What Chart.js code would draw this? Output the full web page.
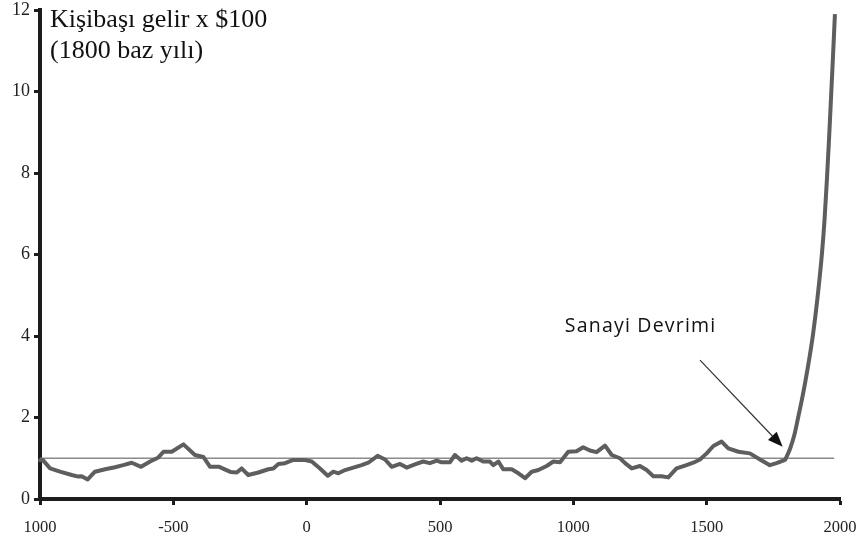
<!DOCTYPE html>
<html>
<head>
<meta charset="utf-8">
<script src="https://cdn.jsdelivr.net/npm/chart.js@4"></script>
<style>
  html, body { margin: 0; padding: 0; background: #ffffff; }
  #wrap { width: 859px; height: 540px; }
</style>
</head>
<body>
<div id="wrap"><canvas id="c" width="859" height="540"></canvas></div>
<script>
// ---- data ----
// pre-industrial period (jagged)
const years = [
  -1000, -990, -962, -925, -881, -856, -844, -821, -794, -756, -719, -688, -656, -621, -587, -556, -537, -506,
  -462, -419, -387, -362, -328, -284, -262, -244, -219, -181, -144, -125, -106, -81, -50, -10,
  19, 50, 79, 100, 119, 144, 175, 206, 231, 266, 294, 319, 350, 375, 406, 437, 462, 488,
  506, 537, 556, 581, 600, 619, 637, 662, 687, 700, 719, 737, 769, 794, 819, 844, 869, 900, 925, 950, 981,
  1012, 1037, 1062, 1087, 1119, 1144, 1175, 1194, 1219, 1250, 1275, 1300, 1331, 1356, 1387, 1419, 1450, 1475,
  1500, 1525, 1556, 1581, 1619, 1662, 1700, 1737, 1762, 1794
];
const income = [
  0.95, 0.96, 0.75, 0.67, 0.59, 0.55, 0.56, 0.48, 0.67, 0.73, 0.78, 0.83, 0.89, 0.79, 0.92, 1.02, 1.16, 1.16,
  1.34, 1.08, 1.03, 0.79, 0.79, 0.66, 0.65, 0.75, 0.59, 0.65, 0.73, 0.75, 0.86, 0.88, 0.96, 0.96,
  0.92, 0.75, 0.57, 0.67, 0.63, 0.71, 0.77, 0.83, 0.89, 1.06, 0.97, 0.79, 0.86, 0.77, 0.85, 0.92, 0.88, 0.94,
  0.90, 0.90, 1.08, 0.94, 1.00, 0.94, 1.00, 0.92, 0.92, 0.83, 0.92, 0.73, 0.73, 0.63, 0.51, 0.67, 0.71, 0.81, 0.92, 0.90, 1.16,
  1.17, 1.27, 1.19, 1.15, 1.31, 1.08, 1.00, 0.88, 0.75, 0.81, 0.71, 0.56, 0.56, 0.53, 0.75, 0.82, 0.89, 0.97,
  1.12, 1.30, 1.41, 1.24, 1.16, 1.12, 0.97, 0.83, 0.88, 0.96
];
// industrial take-off (smooth)
const riseYears = [1794, 1812, 1828, 1843, 1856, 1870, 1885, 1899, 1915, 1932, 1942, 1951, 1959, 1966, 1974, 1981];
const riseIncome = [0.96, 1.22, 1.55, 2.00, 2.40, 2.88, 3.45, 4.05, 4.90, 6.00, 6.85, 7.85, 8.85, 9.80, 10.90, 11.90];
const baseYears = [-1000, 1978];
const baseValues = [1, 1];
const xTickValues = [-1000, -500, 0, 500, 1000, 1500, 2000];
const xTickLabels = ['1000', '-500', '0', '500', '1000', '1500', '2000'];
const yTickLabels = ['0', '2', '4', '6', '8', '10', '12'];
const titleLines = ['Kişibaşı gelir x $100', '(1800 baz yılı)'];
const annotationText = 'Sanayi Devrimi';
const annotationTextAt = [968, 4.11];
const arrowFrom = [1475, 3.41];
const arrowTo = [1785, 1.28];

const mainData = years.map((y, i) => ({ x: y, y: income[i] }));
const riseData = riseYears.map((y, i) => ({ x: y, y: riseIncome[i] }));
const baseData = baseYears.map((y, i) => ({ x: y, y: baseValues[i] }));

const overlay = {
  id: 'overlay',
  afterDraw(chart) {
    const ctx = chart.ctx;
    const xs = chart.scales.x, ys = chart.scales.y;
    ctx.save();
    // axis caption
    ctx.fillStyle = '#111111';
    ctx.font = '26px "Liberation Serif", "Times New Roman", serif';
    ctx.textBaseline = 'alphabetic';
    ctx.textAlign = 'left';
    ctx.fillText(titleLines[0], 50, 27);
    ctx.fillText(titleLines[1], 50, 58);
    // annotation text
    ctx.font = '19.5px "Open Sans", sans-serif';
    if ('letterSpacing' in ctx) ctx.letterSpacing = '1.2px';
    ctx.fillStyle = '#111111';
    ctx.fillText(annotationText, xs.getPixelForValue(annotationTextAt[0]), ys.getPixelForValue(annotationTextAt[1]));
    if ('letterSpacing' in ctx) ctx.letterSpacing = '0px';
    // arrow
    const x1 = xs.getPixelForValue(arrowFrom[0]), y1 = ys.getPixelForValue(arrowFrom[1]);
    const x2 = xs.getPixelForValue(arrowTo[0]), y2 = ys.getPixelForValue(arrowTo[1]);
    const ang = Math.atan2(y2 - y1, x2 - x1);
    const headLen = 15, headW = 6;
    const bx = x2 - headLen * Math.cos(ang), by = y2 - headLen * Math.sin(ang);
    ctx.strokeStyle = '#333333';
    ctx.lineWidth = 1.2;
    ctx.beginPath();
    ctx.moveTo(x1, y1);
    ctx.lineTo(bx, by);
    ctx.stroke();
    ctx.fillStyle = '#111111';
    ctx.beginPath();
    ctx.moveTo(x2, y2);
    ctx.lineTo(bx + headW * Math.sin(ang), by - headW * Math.cos(ang));
    ctx.lineTo(bx - headW * Math.sin(ang), by + headW * Math.cos(ang));
    ctx.closePath();
    ctx.fill();
    ctx.restore();
  }
};

new Chart(document.getElementById('c'), {
  type: 'line',
  data: {
    datasets: [
      {
        data: baseData,
        borderColor: '#8a8a8a',
        borderWidth: 1.5,
        pointRadius: 0,
        tension: 0,
        order: 3
      },
      {
        data: mainData,
        borderColor: '#5e5e5e',
        borderWidth: 4,
        pointRadius: 0,
        tension: 0,
        borderJoinStyle: 'round',
        borderCapStyle: 'round',
        clip: false,
        order: 2
      },
      {
        data: riseData,
        borderColor: '#5e5e5e',
        borderWidth: 4,
        pointRadius: 0,
        cubicInterpolationMode: 'monotone',
        borderJoinStyle: 'round',
        borderCapStyle: 'butt',
        clip: false,
        order: 1
      }
    ]
  },
  options: {
    responsive: false,
    animation: false,
    devicePixelRatio: 1,
    layout: { padding: { top: 10, right: 19, left: 0, bottom: 0 } },
    plugins: { legend: { display: false }, tooltip: { enabled: false } },
    scales: {
      x: {
        type: 'linear',
        min: -1000,
        max: 2000,
        afterBuildTicks(scale) { scale.ticks = xTickValues.map(v => ({ value: v })); },
        afterFit(scale) { scale.height = 41; scale.paddingLeft = 0; scale.paddingRight = 0; },
        ticks: {
          callback: (v, i) => xTickLabels[i],
          font: { family: '"Liberation Serif", "Times New Roman", serif', size: 16.5 },
          color: '#222222',
          padding: 13,
          maxRotation: 0,
          autoSkip: false
        },
        grid: { drawOnChartArea: false, drawTicks: true, tickLength: 6, tickWidth: 3, tickColor: '#1c1c1c' },
        border: { display: true, width: 4, color: '#1c1c1c' }
      },
      y: {
        type: 'linear',
        min: 0,
        max: 12,
        afterBuildTicks(scale) { scale.ticks = yTickLabels.map(v => ({ value: Number(v) })); },
        afterFit(scale) { scale.width = 40; scale.paddingTop = 0; scale.paddingBottom = 0; },
        ticks: {
          callback: (v, i) => yTickLabels[i],
          font: { family: '"Liberation Serif", "Times New Roman", serif', size: 18 },
          color: '#222222',
          padding: 4
        },
        grid: { drawOnChartArea: false, drawTicks: true, tickLength: 6, tickWidth: 3, tickColor: '#1c1c1c' },
        border: { display: true, width: 4, color: '#1c1c1c' }
      }
    }
  },
  plugins: [overlay]
});
</script>
</body>
</html>
